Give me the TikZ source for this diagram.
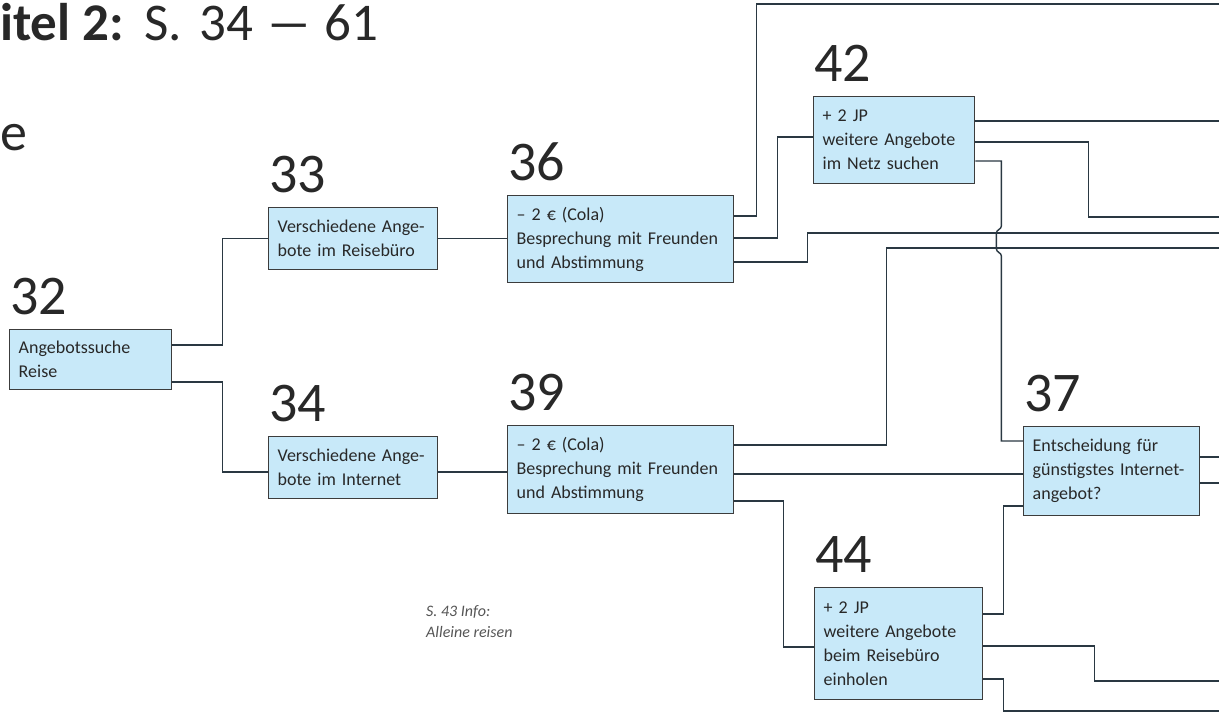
\documentclass[tikz,border=0pt]{standalone}
\usepackage{fontspec}
\setmainfont{Carlito}
\usetikzlibrary{positioning}
\definecolor{kastenblau}{RGB}{200,233,249}
\definecolor{rahmen}{RGB}{60,60,60}
\definecolor{linienfarbe}{RGB}{42,56,66}
\definecolor{schrift}{RGB}{40,40,40}
\definecolor{infograu}{RGB}{85,85,85}

\begin{document}
\begin{tikzpicture}[x=1pt, y=-1pt,
kasten/.style={draw=rahmen, fill=kastenblau, line width=1.4pt, anchor=north west, align=left, inner xsep=9pt, inner ysep=0pt, font=\fontsize{18}{24}\selectfont, text=schrift},
nummer/.style={anchor=base west, inner sep=0pt, font=\fontsize{56}{56}\selectfont, text=schrift},
linie/.style={draw=linienfarbe, line width=1.4pt}
]
        \useasboundingbox (0,0) rectangle (1219,713);
        \coordinate (rechts) at (1219,0);

        \node [anchor=base west, inner sep=0pt, font=\fontsize{53}{53}\selectfont, text=schrift] (titel) at (0,40) {\textbf{itel 2:}\hspace{4pt} S.\hspace{6pt} 34 \scalebox{1.8}[1]{--} 61};
        \node [anchor=base west, inner sep=0pt, font=\fontsize{54}{54}\selectfont, text=schrift] (rest) at (0,150) {e};

        \node [kasten, text width=144pt, minimum height=60pt] (b32) at (9,329) {Angebotssuche\\Reise};
        \node [kasten, text width=151pt, minimum height=62pt] (b33) at (268,207) {Verschiedene Ange-\\bote im Reisebüro};
        \node [kasten, text width=151pt, minimum height=62pt] (b34) at (268,436) {Verschiedene Ange-\\bote im Internet};
        \node [kasten, text width=208pt, minimum height=87pt] (b36) at (507,195) {-- 2 € (Cola)\\Besprechung mit Freunden\\und Abstimmung};
        \node [kasten, text width=208pt, minimum height=88pt] (b39) at (507,425) {-- 2 € (Cola)\\Besprechung mit Freunden\\und Abstimmung};
        \node [kasten, text width=143pt, minimum height=87pt] (b42) at (813,96) {+ 2 JP\\weitere Angebote\\im Netz suchen};
        \node [kasten, text width=158pt, minimum height=89pt] (b37) at (1023,426) {Entscheidung für\\günstigstes Internet-\\angebot?};
        \node [kasten, text width=150pt, minimum height=112pt] (b44) at (814,587) {+ 2 JP\\weitere Angebote\\beim Reisebüro\\einholen};

        \node [nummer] (n32) at ([xshift=1pt,yshift=15pt]b32.north west) {32};
        \node [nummer] (n33) at ([xshift=1pt,yshift=15pt]b33.north west) {33};
        \node [nummer] (n34) at ([xshift=1pt,yshift=15pt]b34.north west) {34};
        \node [nummer] (n36) at ([xshift=1pt,yshift=15pt]b36.north west) {36};
        \node [nummer] (n39) at ([xshift=1pt,yshift=15pt]b39.north west) {39};
        \node [nummer] (n42) at ([xshift=1pt,yshift=15pt]b42.north west) {42};
        \node [nummer] (n37) at ([xshift=1pt,yshift=15pt]b37.north west) {37};
        \node [nummer] (n44) at ([xshift=1pt,yshift=15pt]b44.north west) {44};

        \node [anchor=north west, align=left, inner sep=0pt, font=\fontsize{16}{21}\selectfont\itshape, text=infograu] (info) at (426,605) {S. 43 Info:\\Alleine reisen};

        \draw [linie] (b32.east |- 0,345) -- ++(50,0) |- (b33.west);
        \draw [linie] (b32.east |- 0,382) -- ++(50,0) |- (b34.west |- 0,472);
        \draw [linie] (b33.east) -- (b33.east -| b36.west);
        \draw [linie] (b34.east |- 0,472) -- (b39.west |- 0,472);

        \draw [linie] (b36.east |- 0,216) -- ++(22,0) |- (rechts |- 0,4);
        \draw [linie] (b36.east |- 0,238) -- ++(43,0) |- (b42.west |- 0,137);
        \draw [linie] (b36.east |- 0,262) -- ++(73,0) |- (rechts |- 0,233);

        \draw [linie] (b42.east |- 0,121) -- (rechts |- 0,121);
        \draw [linie] (b42.east |- 0,142) -- ++(113,0) |- (rechts |- 0,217);
        \draw [linie] (b42.east |- 0,161) -- ++(26,0) -- ++(0,65) to[out=-90,in=90] ++(-5,7) -- ++(0,16) to[out=-90,in=90] ++(5,7) |- (b37.west |- 0,441);

        \draw [linie] (b39.east |- 0,445) -- ++(152,0) |- (rechts |- 0,248);
        \draw [linie] (b39.east |- 0,474) -- (b37.west |- 0,474);
        \draw [linie] (b39.east |- 0,501) -- ++(49,0) |- (b44.west |- 0,647);

        \draw [linie] (b44.east |- 0,614) -- ++(20,0) |- (b37.west |- 0,506);
        \draw [linie] (b44.east |- 0,646) -- ++(111,0) |- (rechts |- 0,681);
        \draw [linie] (b44.east |- 0,679) -- ++(20,0) |- (rechts |- 0,711);

        \draw [linie] (b37.east |- 0,457) -- (rechts |- 0,457);
        \draw [linie] (b37.east |- 0,483) -- (rechts |- 0,483);

\end{tikzpicture}
\end{document}
